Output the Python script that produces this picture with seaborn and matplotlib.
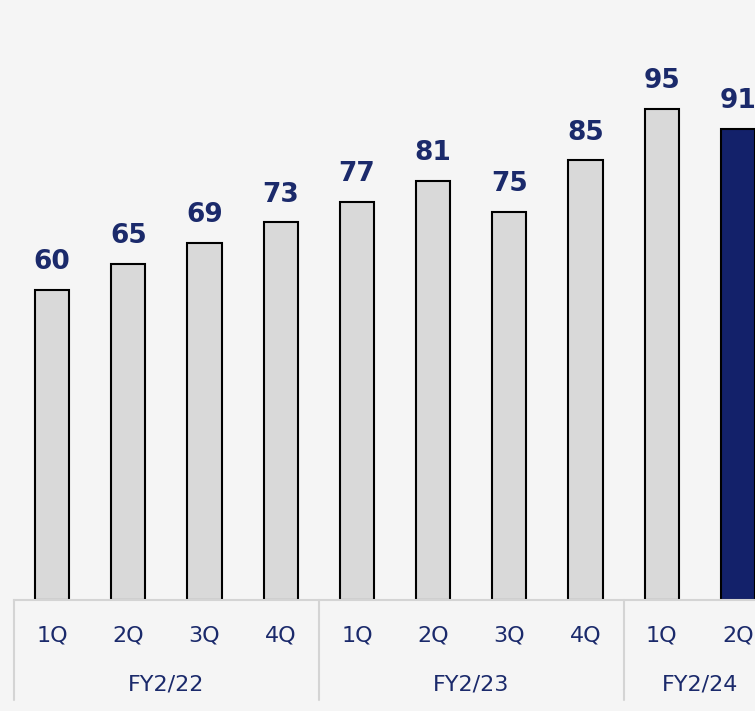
import matplotlib
matplotlib.use("Agg")
import matplotlib.pyplot as plt
import matplotlib.transforms as mtransforms
import seaborn as sns
import pandas as pd

# Quarterly values by fiscal year
quarters = ["1Q", "2Q", "3Q", "4Q", "1Q", "2Q", "3Q", "4Q", "1Q", "2Q"]
fiscal_years = ["FY2/22", "FY2/23", "FY2/24"]
year_of_bar = ["FY2/22"] * 4 + ["FY2/23"] * 4 + ["FY2/24"] * 2
values = [60, 65, 69, 73, 77, 81, 75, 85, 95, 91]

BG = "#f5f5f5"
BAR = "#d9d9d9"
HIGHLIGHT = "#13216a"
NAVY = "#1b2a6b"
GRID = "#d4d4d4"

sns.set_theme(style="white")
plt.rcParams["font.family"] = ["DejaVu Sans"]

df = pd.DataFrame({
    "pos": [f"{y}-{q}" for y, q in zip(year_of_bar, quarters)],
    "value": values,
})
palette = [BAR] * (len(values) - 1) + [HIGHLIGHT]

fig = plt.figure(figsize=(7.55, 7.11), dpi=100, facecolor=BG)
W, H = 755, 711
left_px, right_px, base_px = 14, 776, 600
ax = fig.add_axes([left_px / W, (H - base_px) / H, (right_px - left_px) / W, base_px / H])
ax.set_facecolor(BG)

sns.barplot(data=df, x="pos", y="value", hue="pos", palette=palette, legend=False,
            saturation=1, width=0.45, edgecolor="black", linewidth=1.5, ax=ax, zorder=3)

ax.set_xlim(-0.5, len(values) - 0.5)
ax.set_ylim(0, 116)
ax.set_xlabel("")
ax.set_ylabel("")
ax.set_yticks([])
ax.set_xticks([])
for side in ["left", "right", "top"]:
    ax.spines[side].set_visible(False)
ax.spines["bottom"].set_color(GRID)
ax.spines["bottom"].set_linewidth(1.5)
ax.spines["bottom"].set_zorder(4)

# Value labels above bars
for i, v in enumerate(values):
    ax.annotate(f"{v}", xy=(i, v), xytext=(0, 15), textcoords="offset points",
                ha="center", va="baseline", fontsize=19, fontweight="heavy",
                color=NAVY, zorder=5)

trans = mtransforms.blended_transform_factory(ax.transData, ax.transAxes)
px = 1.0 / base_px  # one pixel in axes-y units

# Quarter labels
for i, q in enumerate(quarters):
    ax.text(i, -35 * px, q, transform=trans, ha="center", va="center",
            fontsize=16, color=NAVY, clip_on=False)

# Fiscal year labels and group separators
start = 0
bounds = [-0.5]
for fy in fiscal_years:
    n = year_of_bar.count(fy)
    mid = start + (n - 1) / 2
    ax.text(mid, -84 * px, fy, transform=trans, ha="center", va="center",
            fontsize=16, color=NAVY, clip_on=False)
    start += n
    bounds.append(start - 0.5)
for b in bounds:
    ax.plot([b, b], [0, -100 * px], transform=trans, color=GRID, lw=1.5,
            clip_on=False, zorder=2)

fig.savefig("out.png", dpi=100, facecolor=BG)
